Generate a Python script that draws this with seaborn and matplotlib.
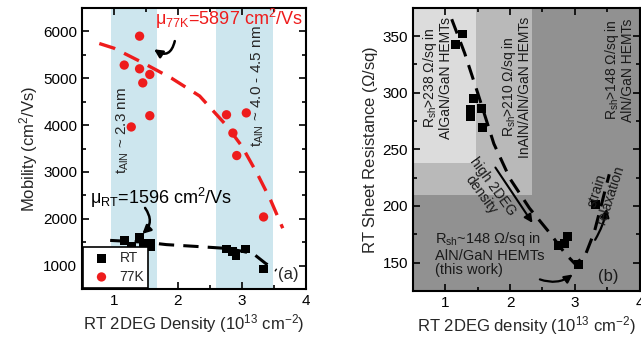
import matplotlib
matplotlib.use("Agg")
import matplotlib.pyplot as plt
import seaborn as sns
import pandas as pd
from matplotlib.patches import Rectangle
from matplotlib.ticker import MultipleLocator

# -----------------------------------
# Data
# -----------------------------------
rt_density = [1.16, 1.27, 1.40, 1.46, 1.57, 1.57, 2.76, 2.85, 2.91, 3.06, 3.34]
rt_mobility = [1540, 1410, 1596, 1470, 1480, 1400, 1355, 1300, 1220, 1355, 930]

k77_density = [1.40, 1.16, 1.40, 1.56, 1.45, 1.56, 1.27, 2.76, 3.07, 2.86, 2.92, 3.34]
k77_mobility = [5897, 5280, 5200, 5080, 4900, 4200, 3960, 4220, 4260, 3830, 3350, 2040]

rt_fit_x = [0.94, 1.5, 1.82, 2.3, 2.75, 3.0, 3.18, 3.37, 3.54]
rt_fit_y = [1540, 1500, 1450, 1410, 1370, 1310, 1255, 1050, 900]

k77_fit_x = [0.77, 1.0, 1.45, 1.9, 2.34, 2.76, 3.0, 3.25, 3.45, 3.64]
k77_fit_y = [5740, 5640, 5330, 5000, 4620, 3990, 3550, 2940, 2400, 1800]

rsh_density = [1.16, 1.27, 1.44, 1.39, 1.39, 1.56, 1.57, 2.74, 2.84, 2.89, 3.05, 3.32]
rsh_values = [343, 352, 295, 285, 279, 286, 269, 165, 167, 173, 148, 201]

rsh_fit_x = [1.1, 1.3, 1.5, 1.75, 2.0, 2.3, 2.6, 2.85, 3.0, 3.15, 3.3, 3.53]
rsh_fit_y = [365, 335, 300, 255, 224, 198, 177, 158, 149, 155, 177, 228]

bands = [(0.95, 1.67), (2.6, 3.48)]

sns.set_theme(style="ticks")
plt.rcParams["font.family"] = ["Liberation Sans", "DejaVu Sans"]
plt.rcParams["mathtext.fontset"] = "custom"
plt.rcParams["mathtext.rm"] = "Liberation Sans"
plt.rcParams["mathtext.it"] = "Liberation Sans:italic"

fig = plt.figure(figsize=(6.41, 3.43), dpi=100)
ax1 = fig.add_axes([0.128, 0.157, 0.349, 0.820])
ax2 = fig.add_axes([0.644, 0.152, 0.354, 0.825])

# -----------------------------------
# Panel (a): mobility
# -----------------------------------
for lo, hi in bands:
    ax1.axvspan(lo, hi, color="#cde6ee", lw=0, zorder=0)

sns.lineplot(x=k77_fit_x, y=k77_fit_y, ax=ax1, color="#ee1c1c", lw=2.4,
             linestyle=(0, (5, 3)), zorder=2)
sns.lineplot(x=rt_fit_x, y=rt_fit_y, ax=ax1, color="black", lw=2.2,
             linestyle=(0, (5, 3)), zorder=2)

df_rt = pd.DataFrame({"n": rt_density, "mu": rt_mobility})
df_77 = pd.DataFrame({"n": k77_density, "mu": k77_mobility})
sns.scatterplot(data=df_rt, x="n", y="mu", ax=ax1, marker="s", s=40,
                color="black", edgecolor="none", label="RT", zorder=3)
sns.scatterplot(data=df_77, x="n", y="mu", ax=ax1, marker="o", s=45,
                color="#ee1c1c", edgecolor="none", label="77K", zorder=3)

ax1.set_xlim(0.5, 4)
ax1.set_ylim(500, 6500)
ax1.set_xticks([1, 2, 3, 4])
ax1.set_yticks([1000, 2000, 3000, 4000, 5000, 6000])
ax1.xaxis.set_minor_locator(MultipleLocator(0.5))
ax1.yaxis.set_minor_locator(MultipleLocator(500))
ax1.set_xlabel("RT 2DEG Density (10$^{13}$ cm$^{-2}$)", fontsize=12, labelpad=3)
ax1.set_ylabel("Mobility (cm$^{2}$/Vs)", fontsize=12, labelpad=2)

leg = ax1.legend(loc="lower left", fontsize=10, frameon=True, fancybox=False,
                 borderaxespad=0.1, handletextpad=0.3, borderpad=0.3,
                 labelspacing=0.3)
leg.get_frame().set_edgecolor("black")
leg.get_frame().set_linewidth(1.2)
leg.get_frame().set_alpha(1)

ax1.text(1.64, 6270, "μ$_{\\mathrm{77K}}$=5897 cm$^{2}$/Vs", color="#ee1c1c",
         fontsize=13, va="center", ha="left")
ax1.annotate("", xy=(1.59, 5650), xytext=(1.96, 5850),
             arrowprops=dict(arrowstyle="-|>", color="black", lw=1.8,
                             connectionstyle="arc3,rad=-0.8", mutation_scale=12))
ax1.text(0.63, 2450, "μ$_{\\mathrm{RT}}$=1596 cm$^{2}$/Vs", color="black",
         fontsize=13, va="center", ha="left")
ax1.annotate("", xy=(1.41, 1640), xytext=(1.46, 2280),
             arrowprops=dict(arrowstyle="-|>", color="black", lw=1.8,
                             connectionstyle="arc3,rad=-0.5", mutation_scale=12))
ax1.text(1.14, 3890, "t$_{\\mathrm{AlN}}$ ~ 2.3 nm", rotation=90, fontsize=11,
         ha="center", va="center")
ax1.text(3.25, 4840, "t$_{\\mathrm{AlN}}$ ~ 4.0 - 4.5 nm", rotation=90, fontsize=11,
         ha="center", va="center")
ax1.text(3.72, 810, "(a)", fontsize=12, ha="center", va="center")

# -----------------------------------
# Panel (b): sheet resistance
# -----------------------------------
ax2.set_facecolor("#919191")
ax2.add_patch(Rectangle((0.5, 210), 1.84, 165, color="#b9b9b9", lw=0, zorder=0))
ax2.add_patch(Rectangle((0.5, 238), 0.98, 137, color="#dcdcdc", lw=0, zorder=0))

sns.lineplot(x=rsh_fit_x, y=rsh_fit_y, ax=ax2, color="black", lw=2.2,
             linestyle=(0, (5, 3)), zorder=2)
sns.scatterplot(x=rsh_density, y=rsh_values, ax=ax2, marker="s", s=40,
                color="black", edgecolor="none", zorder=3)

ax2.set_xlim(0.5, 4)
ax2.set_ylim(125, 375)
ax2.set_xticks([1, 2, 3, 4])
ax2.set_yticks([150, 200, 250, 300, 350])
ax2.xaxis.set_minor_locator(MultipleLocator(0.5))
ax2.yaxis.set_minor_locator(MultipleLocator(25))
ax2.set_xlabel("RT 2DEG density (10$^{13}$ cm$^{-2}$)", fontsize=12, labelpad=3)
ax2.set_ylabel("RT Sheet Resistance ($\\Omega$/sq)", fontsize=12, labelpad=2)

txt_c = "#1a1a1a"
ax2.text(0.87, 313, "R$_{\\mathrm{sh}}$>238 $\\Omega$/sq in\nAlGaN/GaN HEMTs",
         rotation=90, fontsize=10, ha="center", va="center", color=txt_c,
         linespacing=1.0)
ax2.text(2.09, 305, "R$_{\\mathrm{sh}}$>210 $\\Omega$/sq in\nInAlN/AlN/GaN HEMTs",
         rotation=90, fontsize=10, ha="center", va="center", color=txt_c,
         linespacing=1.0)
ax2.text(3.68, 320, "R$_{\\mathrm{sh}}$>148 $\\Omega$/sq in\nAlN/GaN HEMTs",
         rotation=90, fontsize=10, ha="center", va="center", color=txt_c,
         linespacing=1.0)
ax2.text(0.84, 158, "R$_{\\mathrm{sh}}$~148 $\\Omega$/sq in\nAlN/GaN HEMTs\n(this work)",
         fontsize=10.5, ha="left", va="center", color=txt_c, linespacing=1.05)
ax2.text(1.64, 214, "high 2DEG\ndensity", rotation=-54, fontsize=10,
         ha="center", va="center", color=txt_c, linespacing=1.0)
ax2.annotate("", xy=(2.37, 183), xytext=(1.75, 236),
             arrowprops=dict(arrowstyle="-|>", color="black", lw=1.5,
                             mutation_scale=12))
ax2.annotate("", xy=(3.0, 141), xytext=(2.42, 136),
             arrowprops=dict(arrowstyle="-|>", color="black", lw=1.6,
                             connectionstyle="arc3,rad=0.3", mutation_scale=12))
ax2.annotate("", xy=(3.5, 200), xytext=(3.29, 168),
             arrowprops=dict(arrowstyle="-|>", color="black", lw=1.6,
                             connectionstyle="arc3,rad=0.1", mutation_scale=12))
ax2.text(3.44, 212, "strain\nrelaxation", rotation=72, fontsize=10,
         ha="center", va="center", color=txt_c, linespacing=1.0)
ax2.text(3.52, 138, "(b)", fontsize=12, ha="center", va="center", color=txt_c)

for ax in (ax1, ax2):
    ax.tick_params(which="both", direction="in", top=True, right=True,
                   labelsize=11, width=1.2, colors="black")
    ax.tick_params(which="major", length=5)
    ax.tick_params(which="minor", length=3)
    for sp in ax.spines.values():
        sp.set_linewidth(1.5)
        sp.set_color("black")

fig.savefig("out.png", dpi=100)
